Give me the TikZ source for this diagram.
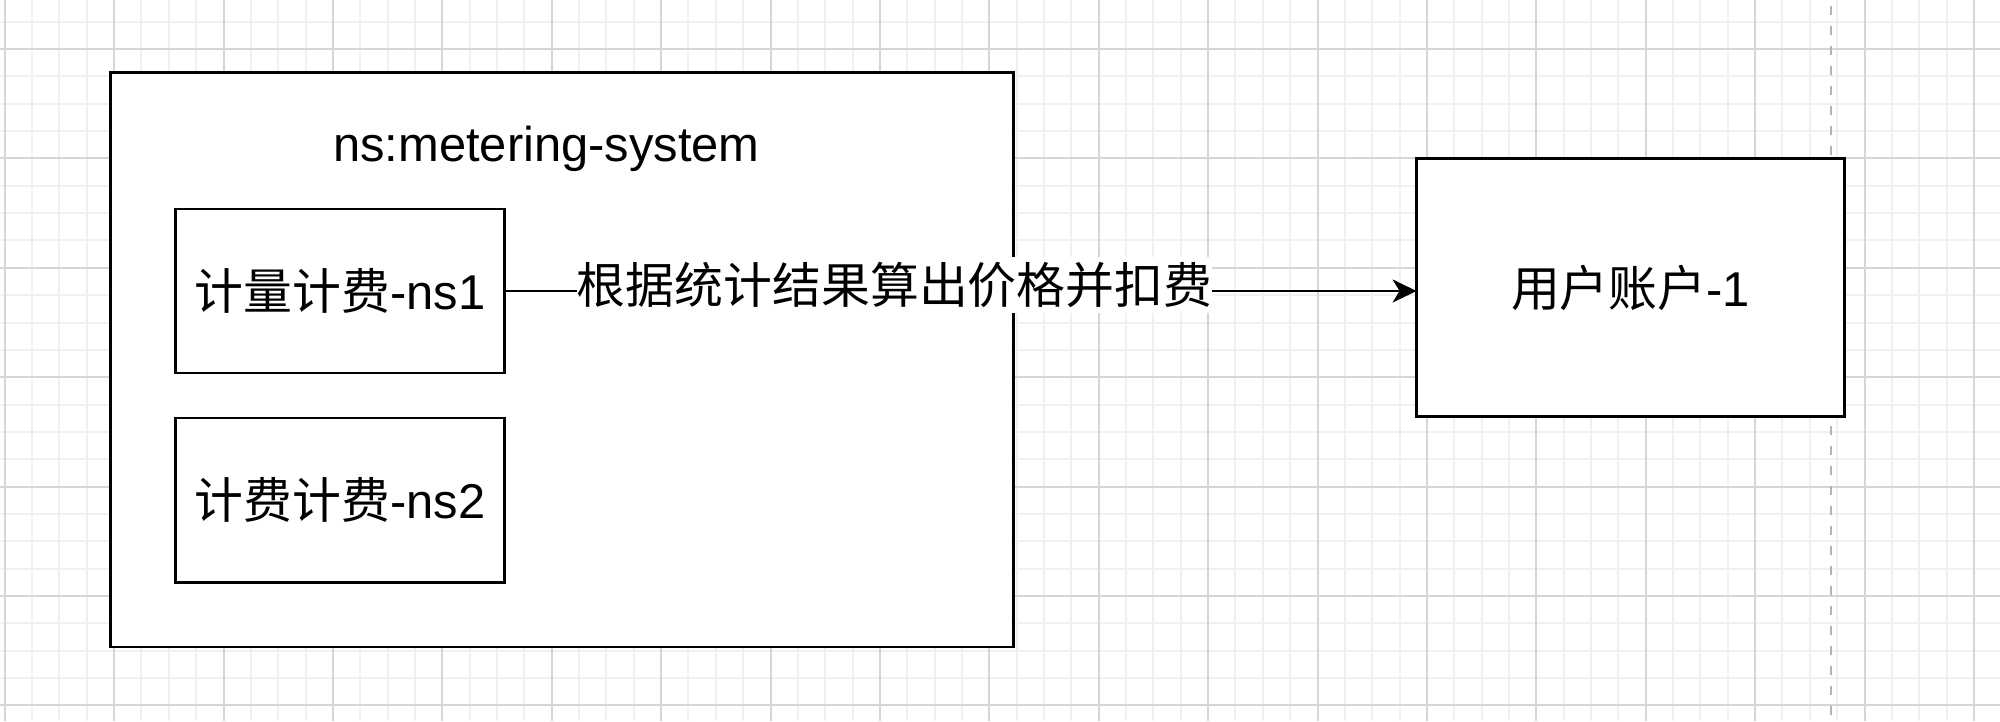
\documentclass[tikz,border=0pt]{standalone}
\usepackage{fontspec}
\setmainfont{Liberation Sans}
\newfontfamily\cjk{Noto Sans CJK SC}
\usetikzlibrary{arrows.meta, positioning}

\definecolor{gridminor}{HTML}{F0F0F0}
\definecolor{gridmajor}{HTML}{D6D6D6}
\definecolor{pagegrey}{HTML}{B3B3B3}

\begin{document}
\begin{tikzpicture}[
  x=0.01cm, y=-0.01cm,
  font=\fontsize{13.9pt}{16pt}\selectfont,
  minorline/.style={line width=0.02cm, draw=gridminor},
  majorline/.style={line width=0.02cm, draw=gridmajor},
  pageline/.style={line width=0.025cm, draw=pagegrey, dash pattern=on 0.09cm off 0.11cm},
  box/.style={rectangle, draw=black, fill=white, line width=0.027cm, inner sep=0pt, outer sep=0pt},
  nsbox/.style={box, minimum width=3.283cm, minimum height=1.64cm},
  flowarrow/.style={-{Stealth[length=0.24cm, width=0.23cm, inset=0.07cm]}, line width=0.02cm},
  edgelabel/.style={fill=white, inner xsep=0pt, inner ysep=0.055cm}
]
\clip (0,0) rectangle (2000,721);

% Background grid
\foreach \i in {0,...,73}
  \draw[minorline] ({4.7+27.35*\i},0) -- ({4.7+27.35*\i},721);
\foreach \j in {0,...,26}
  \draw[minorline] (0,{21.65+27.35*\j}) -- (2000,{21.65+27.35*\j});
\foreach \i in {0,...,18}
  \draw[majorline] ({4.7+109.4*\i},0) -- ({4.7+109.4*\i},721);
\foreach \j in {0,...,6}
  \draw[majorline] (0,{49+109.4*\j}) -- (2000,{49+109.4*\j});

% Page break
\draw[pageline] (1831,6) -- (1831,721);

% Metering system namespace
\node[box, minimum width=9.026cm, minimum height=5.742cm] (system) at (562,359.6) {};
\node[anchor=base] (systitle) at (546.5,161.7) {ns:metering-system};
\node[nsbox] (ns1) at (339.9,291) {{\cjk 计量计费}-ns1};
\node[nsbox, below=0.45cm of ns1] (ns2) {{\cjk 计费计费}-ns2};

% User account
\node[box, minimum width=4.276cm, minimum height=2.584cm] (account) at (1630.5,287.5) {{\cjk 用户账户}-1};

% Billing
\draw[flowarrow] (ns1.east) -- node[edgelabel, pos=0.428, yshift=0.06cm] (charge) {\cjk 根据统计结果算出价格并扣费} (ns1.east -| account.west);

\end{tikzpicture}
\end{document}
